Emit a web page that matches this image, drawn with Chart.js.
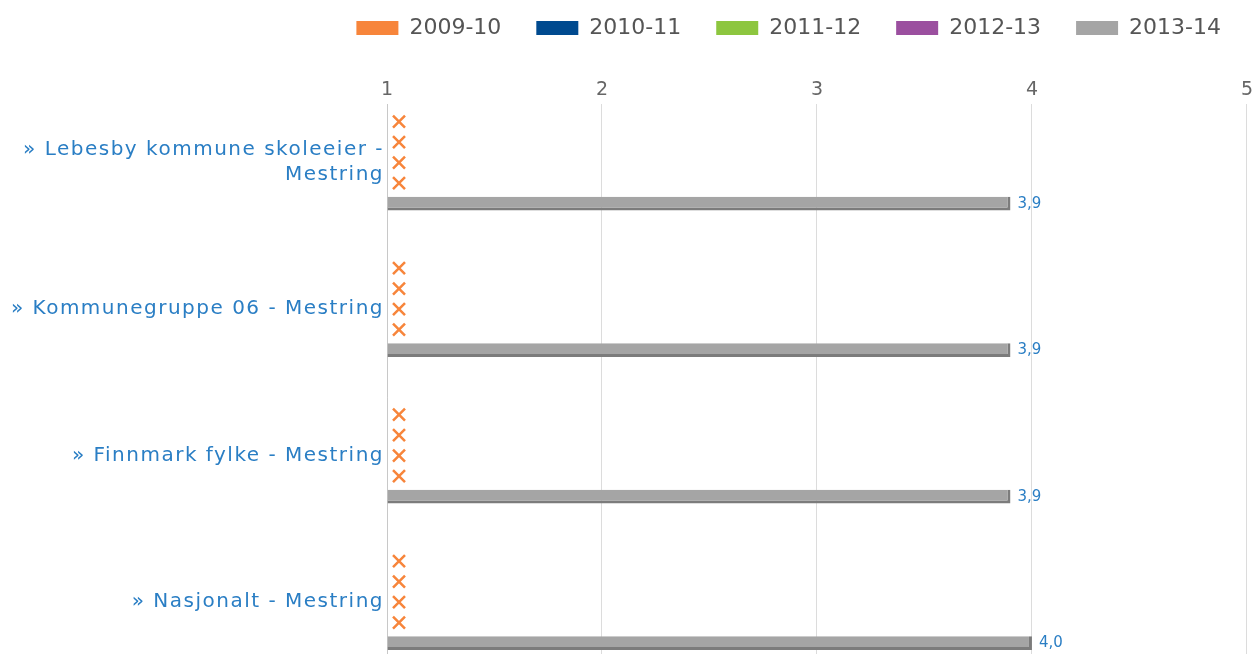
<!DOCTYPE html>
<html>
<head>
<meta charset="utf-8">
<script src="https://cdn.jsdelivr.net/npm/chart.js@4"></script>
<style>
  body { margin: 0; overflow: hidden; background: #fff; }
  #wrap { width: 1256px; height: 690px; }
</style>
</head>
<body>
<div id="wrap"><canvas id="myChart"></canvas></div>
<script>
var categories = [
  ["» Lebesby kommune skoleeier -", "Mestring"],
  "» Kommunegruppe 06 - Mestring",
  "» Finnmark fylke - Mestring",
  "» Nasjonalt - Mestring"
];
var seasons = ["2009-10", "2010-11", "2011-12", "2012-13", "2013-14"];
var values0910 = [null, null, null, null];
var values1011 = [null, null, null, null];
var values1112 = [null, null, null, null];
var values1213 = [null, null, null, null];
var values1314 = [3.9, 3.9, 3.9, 4.0];
var xTicks = [1, 2, 3, 4, 5];

var barColors = ["#f7853b", "#004a8f", "#8dc63f", "#9b4f9f", "#a5a5a5"];
var allValues = [values0910, values1011, values1112, values1213, values1314];

var font = "'DejaVu Sans', Verdana, sans-serif";
var blue = "#2a7ec4";

// orange crosses for missing values, blue numbers at the end of bars
var markers = {
  id: "markers",
  beforeDraw: function (chart) {
    // wider letter spacing on the category labels
    var y = chart.scales.y;
    if (!y.spaced) {
      var draw = y.drawLabels;
      y.drawLabels = function (area) {
        this.ctx.save();
        this.ctx.letterSpacing = "1.5px";
        draw.call(this, area);
        this.ctx.restore();
      };
      y.spaced = true;
    }
  },
  afterDatasetsDraw: function (chart) {
    var ctx = chart.ctx;
    var left = chart.chartArea.left;
    ctx.save();
    chart.data.datasets.forEach(function (ds, i) {
      var meta = chart.getDatasetMeta(i);
      meta.data.forEach(function (el, j) {
        var v = ds.data[j].x;
        if (v === null) {
          var cx = left + 12, cy = el.y, r = 6;
          ctx.strokeStyle = barColors[0];
          ctx.lineWidth = 2.5;
          ctx.beginPath();
          ctx.moveTo(cx - r, cy - r); ctx.lineTo(cx + r, cy + r);
          ctx.moveTo(cx + r, cy - r); ctx.lineTo(cx - r, cy + r);
          ctx.stroke();
        } else {
          ctx.fillStyle = blue;
          ctx.font = "15px " + font;
          ctx.textAlign = "left";
          ctx.textBaseline = "middle";
          ctx.fillText(v.toFixed(1).replace(".", ","), el.x + 7, el.y);
        }
      });
    });
    ctx.restore();
  }
};

new Chart("myChart", {
  type: "bar",
  data: {
    datasets: seasons.map(function (s, i) {
      return {
        label: s,
        data: allValues[i].map(function (v, j) { return { x: v, y: j }; }),
        backgroundColor: barColors[i],
        borderColor: "#7c7c7c",
        borderWidth: { top: 0, left: 0, right: 3, bottom: 3 },
        borderSkipped: false,
        base: xTicks[0]
      };
    })
  },
  options: {
    indexAxis: "y",
    responsive: true,
    maintainAspectRatio: false,
    animation: false,
    categoryPercentage: 0.70,
    barPercentage: 0.68,
    layout: { padding: { top: -18, left: 10, right: 0, bottom: 0 } },
    scales: {
      x: {
        position: "top",
        min: xTicks[0],
        max: xTicks[xTicks.length - 1],
        ticks: { stepSize: 1, padding: 3, color: "#666", font: { family: font, size: 19 } },
        grid: { color: "#dcdcdc", drawTicks: false },
        border: { display: false },
        afterFit: function (s) { s.height = 55; }
      },
      y: {
        type: "linear",
        reverse: true,
        offset: false,
        bounds: "data",
        min: -0.4,
        max: categories.length - 0.4,
        afterBuildTicks: function (s) {
          s.ticks = categories.map(function (c, i) { return { value: i }; });
        },
        ticks: {
          padding: 3,
          color: blue,
          font: { family: font, size: 20, lineHeight: 1.25 },
          callback: function (v) { return categories[v]; }
        },
        grid: { display: false, drawTicks: false },
        border: { display: true, color: "#c8c8c8" },
        afterFit: function (s) {
          s.width = 377;
          s.paddingTop = 0;
          s.paddingBottom = 0;
        }
      }
    },
    plugins: {
      legend: {
        position: "top",
        align: "end",
        labels: {
          boxWidth: 42,
          boxHeight: 14,
          padding: 35,
          color: "#555",
          font: { family: font, size: 22 },
          generateLabels: function (chart) {
            return Chart.defaults.plugins.legend.labels.generateLabels(chart).map(function (l) {
              l.lineWidth = 0;
              return l;
            });
          }
        }
      },
      tooltip: { enabled: false }
    }
  },
  plugins: [markers]
});
</script>
</body>
</html>
